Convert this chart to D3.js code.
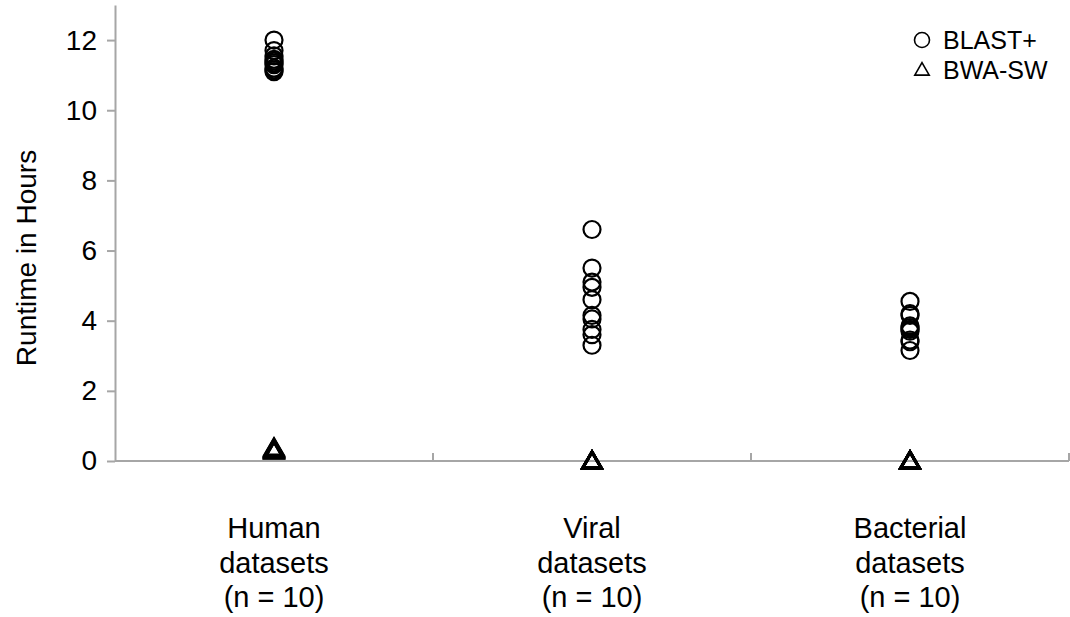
<!DOCTYPE html>
<html>
<head>
<meta charset="utf-8">
<script src="https://cdn.jsdelivr.net/npm/d3@7"></script>
<style>
  body { margin: 0; background: #fff; }
  text { font-family: "Liberation Sans", Arial, sans-serif; fill: #000; }
</style>
</head>
<body>
<script>
// categories and values
let categories = ["Human", "Viral", "Bacterial"];
let categoryLines = [["Human", "datasets", "(n = 10)"], ["Viral", "datasets", "(n = 10)"], ["Bacterial", "datasets", "(n = 10)"]];
let blastHuman = [12.0, 11.7, 11.55, 11.45, 11.4, 11.35, 11.3, 11.2, 11.15, 11.1];
let blastViral = [6.6, 5.5, 5.1, 4.95, 4.6, 4.15, 4.05, 3.75, 3.6, 3.3];
let blastBacterial = [4.55, 4.2, 4.15, 3.85, 3.8, 3.75, 3.7, 3.45, 3.4, 3.15];
let bwaHuman = [0.4, 0.38, 0.37, 0.36, 0.35, 0.34, 0.33, 0.32, 0.31, 0.3];
let bwaViral = [0.03, 0.03, 0.03, 0.02, 0.02, 0.02, 0.02, 0.02, 0.02, 0.02];
let bwaBacterial = [0.03, 0.03, 0.03, 0.02, 0.02, 0.02, 0.02, 0.02, 0.02, 0.02];
let yTicks = [0, 2, 4, 6, 8, 10, 12];
let legendNames = ["BLAST+", "BWA-SW"];

let blast = [blastHuman, blastViral, blastBacterial];
let bwa = [bwaHuman, bwaViral, bwaBacterial];

let svg = d3.select("body").append("svg")
    .attr("width", 1070)
    .attr("height", 617);

let x = d3.scaleBand()
    .domain(categories)
    .range([115, 1069])
    .padding(0);

let y = d3.scaleLinear()
    .domain([0, 13])
    .range([461, 5]);

let axisColor = "#a6a6a6";

// Y axis
let yAxis = svg.append("g")
    .attr("transform", "translate(115,0)")
    .call(d3.axisLeft(y).tickValues(yTicks).tickSize(8).tickSizeOuter(0).tickFormat(d3.format("d")).tickPadding(10));
yAxis.select(".domain").attr("stroke", axisColor).attr("stroke-width", 2);
yAxis.selectAll(".tick line").attr("stroke", axisColor).attr("stroke-width", 2);
yAxis.selectAll(".tick text")
    .style("font-family", "Liberation Sans, Arial, sans-serif")
    .style("font-size", "28px")
    .attr("fill", "#000");

// X axis line with boundary ticks pointing up
svg.append("line")
    .attr("x1", 115).attr("x2", x.range()[1])
    .attr("y1", y(0)).attr("y2", y(0))
    .attr("stroke", axisColor).attr("stroke-width", 2);

categories.forEach(c => {
    let bx = x(c) + x.bandwidth();
    svg.append("line")
        .attr("x1", bx).attr("x2", bx)
        .attr("y1", y(0)).attr("y2", y(0) - 8)
        .attr("stroke", axisColor).attr("stroke-width", 2);
});

// category labels
categories.forEach((c, i) => {
    let cx = x(c) + x.bandwidth() / 2;
    categoryLines[i].forEach((t, j) => {
        svg.append("text")
            .attr("x", cx)
            .attr("y", 538 + j * 34.5)
            .attr("text-anchor", "middle")
            .style("font-size", "29px")
            .text(t);
    });
});

// y axis title
svg.append("text")
    .attr("transform", "translate(36,258) rotate(-90)")
    .attr("text-anchor", "middle")
    .style("font-size", "28px")
    .text("Runtime in Hours");

let tri = d3.symbol().type(d3.symbolTriangle).size(150);

// BLAST+ circles
categories.forEach((c, i) => {
    let cx = x(c) + x.bandwidth() / 2;
    svg.append("g").selectAll("circle")
        .data(blast[i])
        .join("circle")
        .attr("cx", cx)
        .attr("cy", d => y(d))
        .attr("r", 8.5)
        .attr("fill", "none")
        .attr("stroke", "#000")
        .attr("stroke-width", 2.2);
});

// BWA-SW triangles
categories.forEach((c, i) => {
    let cx = x(c) + x.bandwidth() / 2;
    svg.append("g").selectAll("path")
        .data(bwa[i])
        .join("path")
        .attr("d", tri)
        .attr("transform", d => `translate(${cx},${y(d) + 2.5})`)
        .attr("fill", "none")
        .attr("stroke", "#000")
        .attr("stroke-width", 2.8);
});

// legend
let legend = svg.append("g");
legendNames.forEach((n, i) => {
    let ly = 40 + i * 30;
    if (i == 0) {
        legend.append("circle")
            .attr("cx", 922).attr("cy", ly)
            .attr("r", 7.5)
            .attr("fill", "none").attr("stroke", "#000").attr("stroke-width", 1.6);
    } else {
        legend.append("path")
            .attr("d", d3.symbol().type(d3.symbolTriangle).size(90))
            .attr("transform", `translate(922,${ly + 1})`)
            .attr("fill", "none").attr("stroke", "#000").attr("stroke-width", 1.6);
    }
    legend.append("text")
        .attr("x", 943).attr("y", ly + 9)
        .style("font-size", "25px")
        .text(n);
});
</script>
</body>
</html>
